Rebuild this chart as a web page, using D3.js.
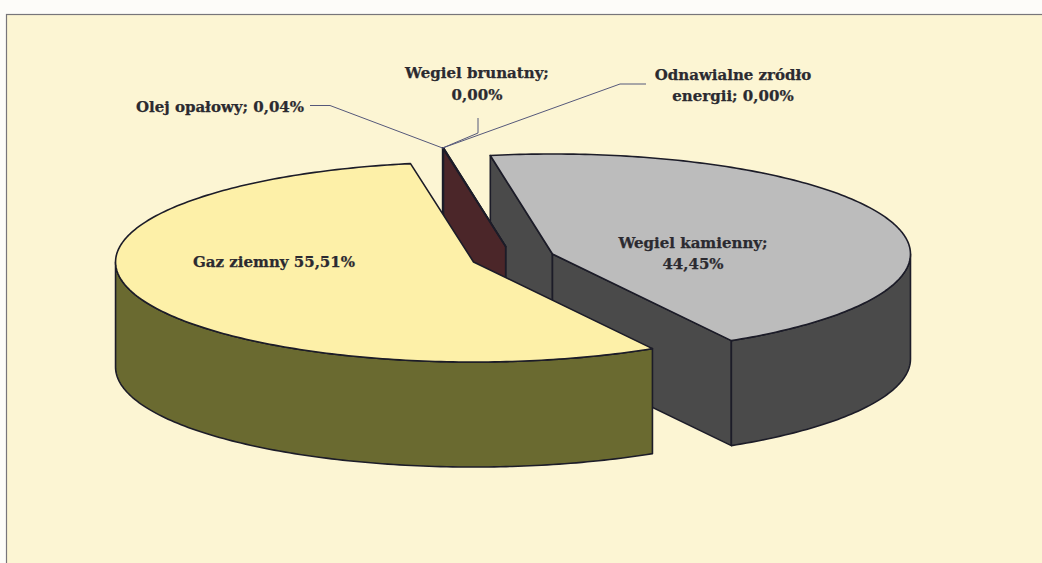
<!DOCTYPE html>
<html>
<head>
<meta charset="utf-8">
<script src="https://cdn.jsdelivr.net/npm/d3@7"></script>
<style>
  html, body { margin: 0; padding: 0; background: #fdfcf9; }
  svg { display: block; }
  text { font-family: "DejaVu Serif", serif; font-weight: bold; font-size: 15px; fill: #2b2a30; stroke: #2b2a30; stroke-width: 0.25; text-anchor: middle; }
</style>
</head>
<body>
<script>
var categories = ["Wegiel kamienny", "Gaz ziemny", "Olej opałowy", "Wegiel brunatny", "Odnawialne zródło energii"];
var shares = [44.45, 55.51, 0.04, 0.00, 0.00];
var topColors = ["#bcbcbc", "#fdf0a8", "#3d1f22", "#3d1f22", "#3d1f22"];
var wallColors = ["#4a4a4a", "#6a6a30", "#4b2629", "#4b2629", "#4b2629"];

const width = 1042, height = 563;
var cx = 513, cy = 258;
var rx = 358, ry = 100;
var depth = 105;
var explode = 42;

var svg = d3.select("body").append("svg").attr("width", width).attr("height", height);

// page frame
svg.append("rect").attr("x", 6.5).attr("y", 14.5).attr("width", width).attr("height", height)
    .attr("fill", "#fcf5d3").attr("stroke", "#77757a").attr("stroke-width", 1.2);

// pie angles are 0 at 12 o'clock, first slice starts just left of it
var pie = d3.pie().sort(null).startAngle(-10 * Math.PI / 180).endAngle(350 * Math.PI / 180);
var slices = pie(shares);

// flat pie -> screen
var xScale = d3.scaleLinear().domain([-1, 1]).range([-rx, rx]);
var yScale = d3.scaleLinear().domain([-1, 1]).range([-ry, ry]);

function centre(s) {
    var mid = (s.startAngle + s.endAngle) / 2;
    return [cx + xScale(Math.sin(mid)) * explode / rx, cy - yScale(Math.cos(mid)) * explode / rx];
}
function rim(s, a) {
    var c = centre(s);
    return [c[0] + xScale(Math.sin(a)), c[1] - yScale(Math.cos(a))];
}
function rimPoints(s, from, to) {
    var n = Math.max(2, Math.ceil(Math.abs(to - from) * 60));
    return d3.range(n + 1).map(function (i) { return rim(s, from + (to - from) * i / n); });
}
var line = d3.line();
function down(p) { return [p[0], p[1] + depth]; }

function topPath(s) {
    return line([centre(s)].concat(rimPoints(s, s.startAngle, s.endAngle))) + "Z";
}
function radialWall(s, a) {
    var c = centre(s), p = rim(s, a);
    return line([c, p, down(p), down(c)]) + "Z";
}
// outer wall only where the rim faces the viewer (pie angle 90..270 deg)
function outerWall(s) {
    var from = Math.max(s.startAngle, Math.PI / 2), to = Math.min(s.endAngle, 1.5 * Math.PI);
    if (to <= from) return null;
    var pts = rimPoints(s, from, to);
    return line(pts.concat(pts.slice().reverse().map(down))) + "Z";
}

// drawn back to front: coal, oil sliver, gas
[0, 2, 1].forEach(function (i) {
    var s = slices[i];
    var g = svg.append("g").attr("stroke", "#1c1c28").attr("stroke-width", 1.6).attr("stroke-linejoin", "round");
    if (i !== 1) {
        g.append("path").attr("d", radialWall(s, s.startAngle)).attr("fill", wallColors[i]);
        g.append("path").attr("d", radialWall(s, s.endAngle)).attr("fill", wallColors[i]);
    }
    var w = outerWall(s);
    if (w) g.append("path").attr("d", w).attr("fill", wallColors[i]);
    g.append("path").attr("d", topPath(s)).attr("fill", topColors[i]);
});

// leaders, all run to the sliver's rim
var tip = rim(slices[2], slices[2].startAngle);
var leaders = [
    [[310, 105.5], [330, 105.5], tip],
    [[478, 118], [478, 133], tip],
    [[646, 84], [620, 84], tip]
];
svg.append("g").selectAll("path").data(leaders).enter().append("path")
    .attr("d", function (d) { return line(d); })
    .attr("fill", "none").attr("stroke", "#55587a").attr("stroke-width", 1);

function label(x, y, lines, step) {
    var t = svg.append("text").attr("x", x).attr("y", y);
    lines.forEach(function (l, i) {
        t.append("tspan").attr("x", x).attr("dy", i ? step : 0).text(l);
    });
}
function fmt(v) { return d3.format(".2f")(v).replace(".", ",") + "%"; }

label(220, 112, [categories[2] + "; " + fmt(shares[2])], 0);
label(477, 78, [categories[3] + ";", fmt(shares[3])], 22);
label(733, 80, ["Odnawialne zródło", "energii; " + fmt(shares[4])], 21);
label(693, 248, [categories[0] + ";", fmt(shares[0])], 21);
label(274, 267, [categories[1] + " " + fmt(shares[1])], 0);
</script>
</body>
</html>
